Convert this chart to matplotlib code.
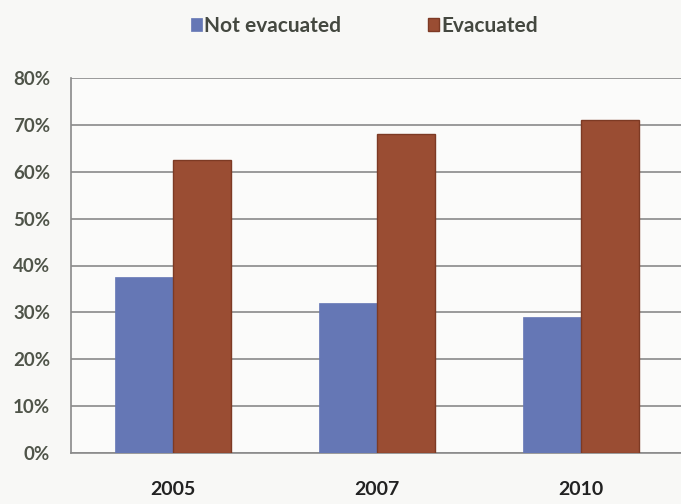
import matplotlib.pyplot as plt
import numpy as np

# -----------------------------
# Data
# -----------------------------
years = ['2005', '2007', '2010']
not_evacuated = [37.5, 32, 29]
evacuated = [62.5, 68, 71]
y_ticks = [0, 10, 20, 30, 40, 50, 60, 70, 80]

blue = '#6577b5'
brown = '#9a4d33'
text_gray = '#4f5449'

plt.rcParams['font.family'] = ['Lato', 'DejaVu Sans']

fig = plt.figure(figsize=(6.81, 5.04), dpi=100, facecolor='#f8f8f6')
ax = fig.add_axes([71/681, 51/504, 612/681, 375/504])
ax.set_facecolor('#fbfbfa')

x = np.arange(len(years))
w = 0.285
ax.bar(x - w/2, not_evacuated, w, color=blue, edgecolor=blue, linewidth=0.5,
       label='Not evacuated', zorder=3)
ax.bar(x + w/2, evacuated, w, color=brown, edgecolor='#7d3a24', linewidth=1.0,
       label='Evacuated', zorder=3)

ax.set_xlim(-0.5, 2.5)
ax.set_ylim(0, 80)
ax.set_yticks(y_ticks)
ax.set_yticklabels([f'{v}%' for v in y_ticks], color=text_gray,
                   fontsize=13.5, fontweight='bold')
ax.set_xticks(x)
ax.set_xticklabels(years, fontsize=14, fontweight='bold', color='#222222')
ax.tick_params(axis='y', length=0, pad=15)
ax.tick_params(axis='x', length=0, pad=20)
ax.yaxis.grid(True, color='#9a9a9a', linewidth=1.4, zorder=0)

for side in ['top', 'right']:
    ax.spines[side].set_visible(False)
ax.spines['left'].set_color('#8a8a8a')
ax.spines['bottom'].set_color('#8a8a8a')
ax.spines['left'].set_linewidth(1.2)
ax.spines['bottom'].set_linewidth(1.2)

leg = fig.legend(loc='upper center', bbox_to_anchor=(0.535, 1.006), ncol=2,
                 frameon=False, handlelength=0.55, handleheight=0.55,
                 handletextpad=0.1, columnspacing=4.15,
                 prop={'size': 15, 'weight': 'bold'})
for t in leg.get_texts():
    t.set_color('#444840')

plt.savefig('out.png', dpi=100, facecolor=fig.get_facecolor())
plt.close()
